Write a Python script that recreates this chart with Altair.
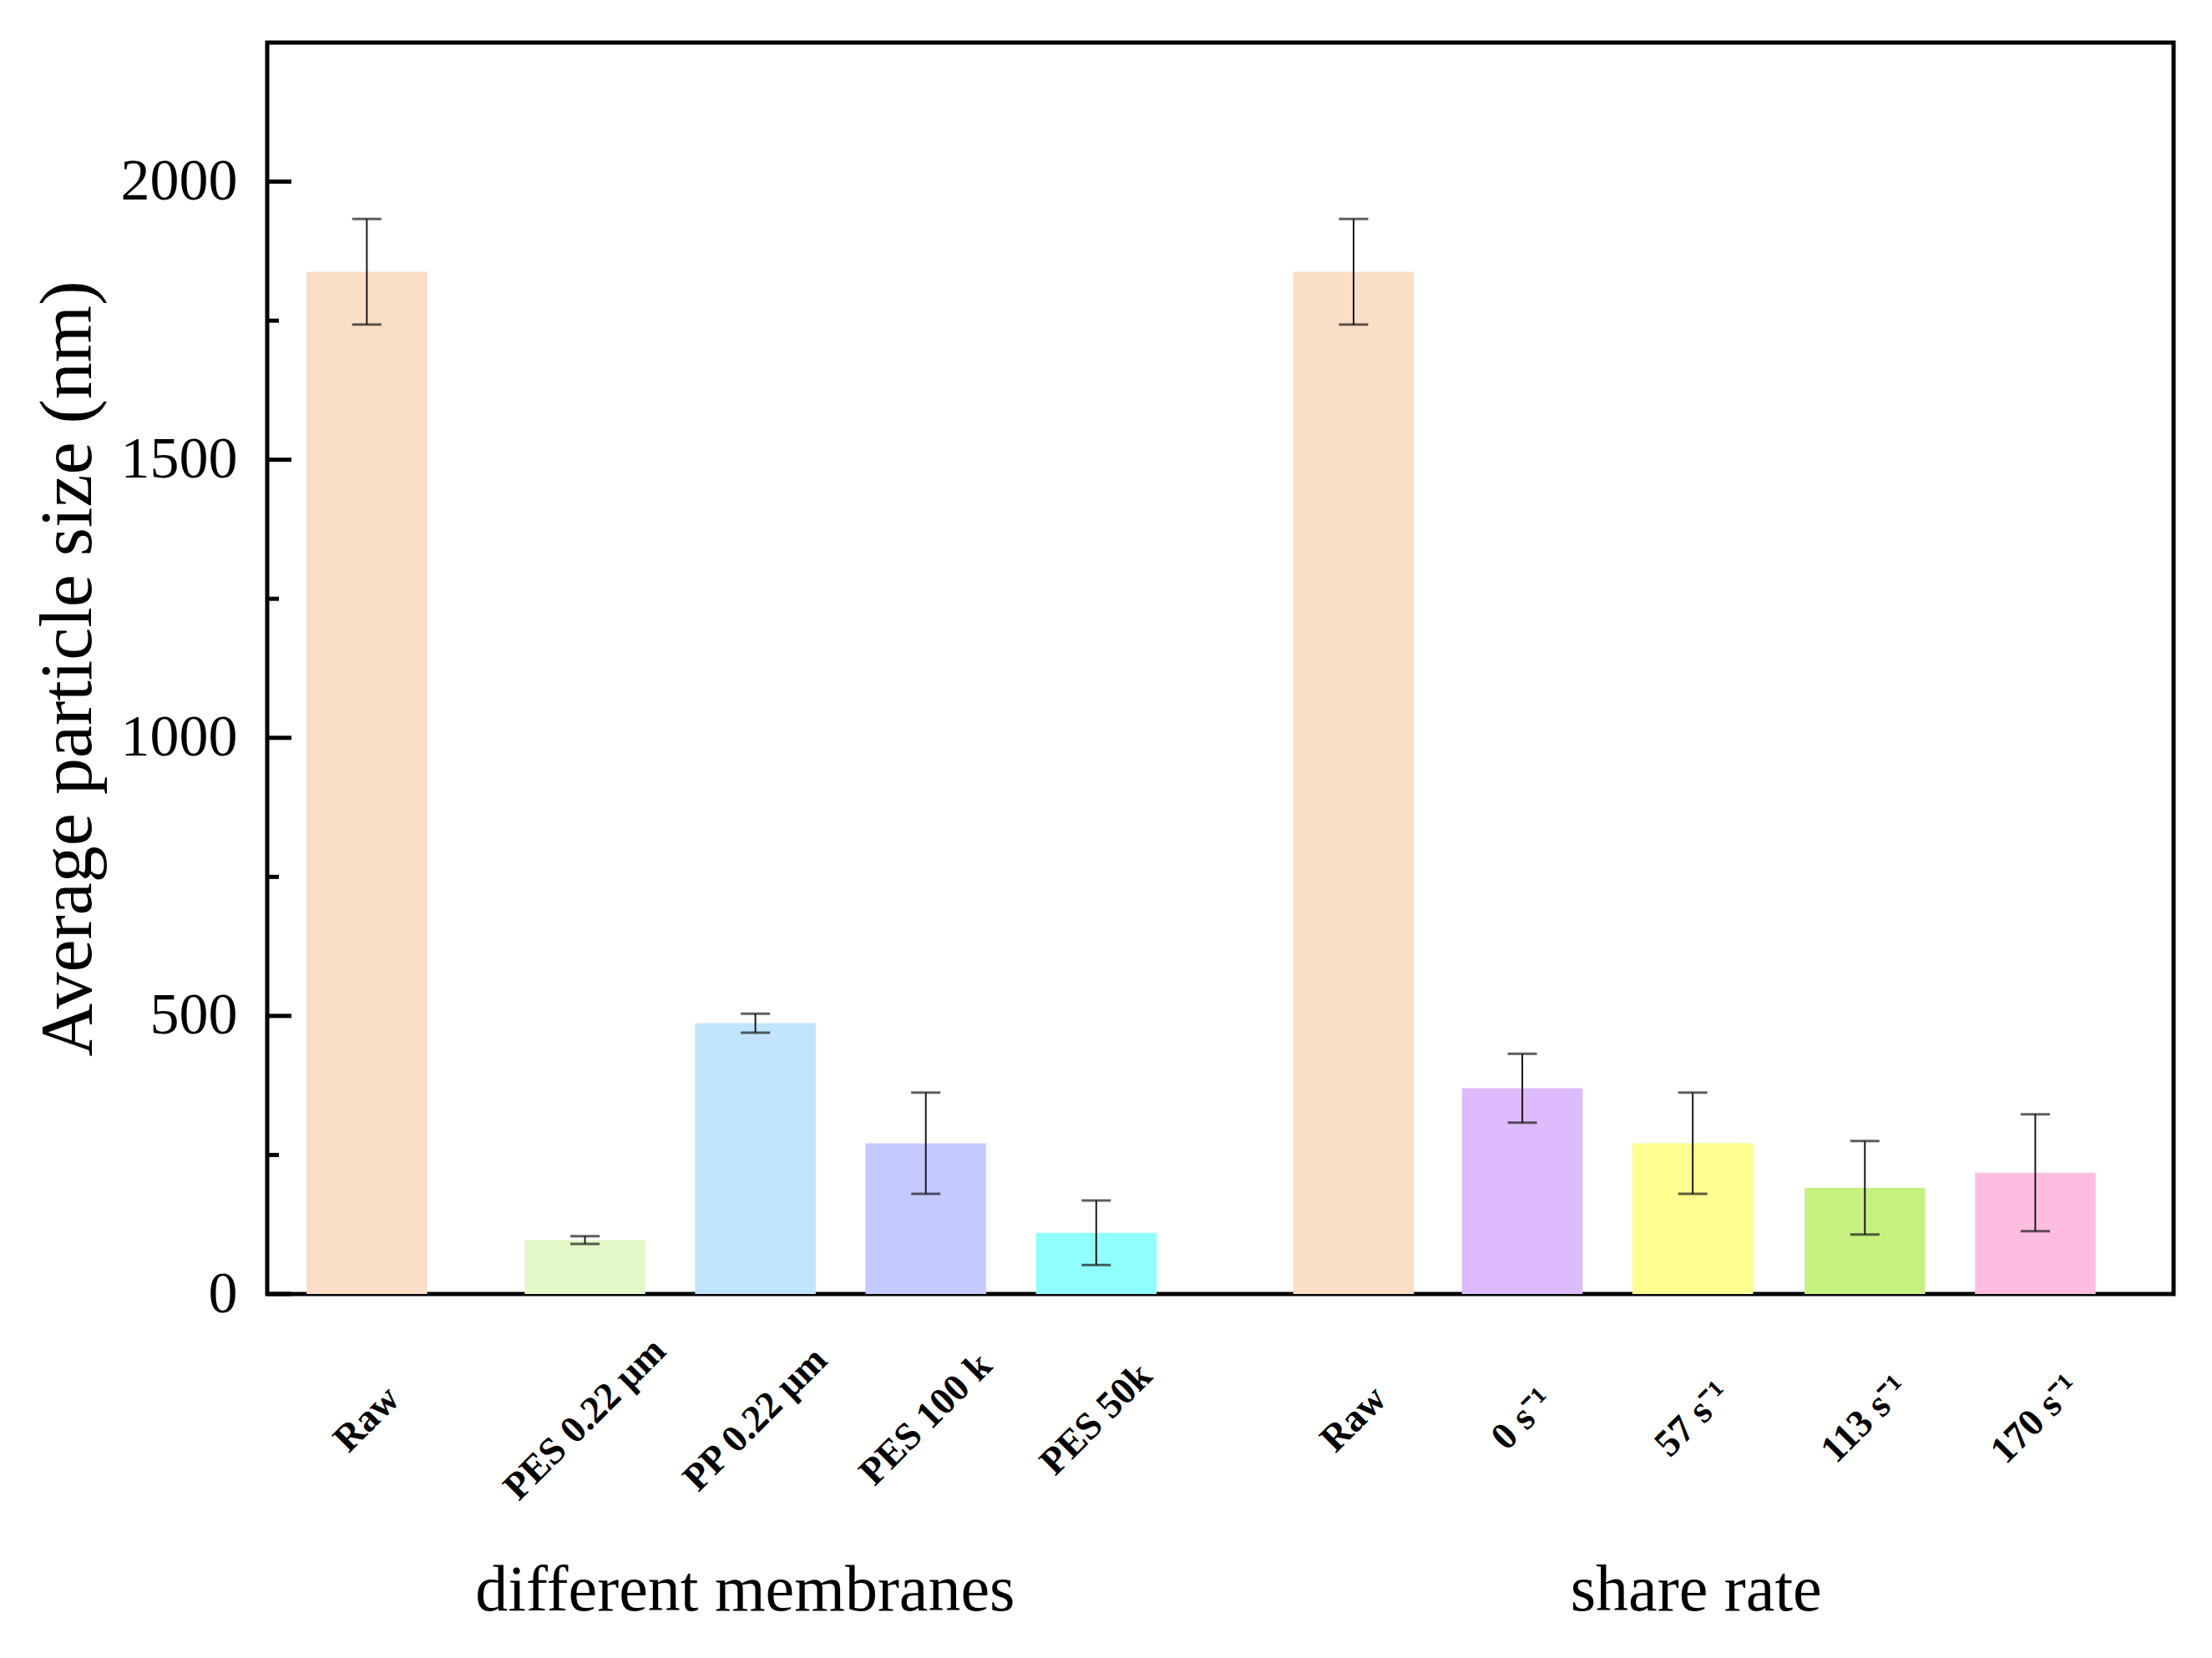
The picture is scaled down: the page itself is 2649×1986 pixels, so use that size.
import altair as alt
import pandas as pd

# ---- data ----
labels = ["Raw", "PES 0.22 μm", "PP 0.22 μm", "PES 100 k", "PES 50k",
          "Raw", "0 s⁻¹", "57 s⁻¹", "113 s⁻¹", "170 s⁻¹"]
x_pos = [0.56, 1.84, 2.84, 3.84, 4.84, 6.35, 7.34, 8.34, 9.35, 10.35]
values = [1838, 97, 487, 271, 110, 1838, 370, 271, 191, 218]
errors = [95, 7, 17, 91, 58, 95, 62, 91, 84, 105]
colors = ["#FBDEC6", "#E3F8C7", "#C2E5FE", "#C5CAFE", "#90FFFE",
          "#FBDEC6", "#DDBBFE", "#FEFE91", "#C6F181", "#FEBDE0"]
groups = ["different membranes", "share rate"]
group_pos = [2.78, 8.36]
major_ticks = [0, 500, 1000, 1500, 2000]
minor_ticks = [250, 750, 1250, 1750]

# ---- style ----
FONT = "Liberation Serif"
W, H = 2283, 1499
HALF_BAR = 0.354
X_DOMAIN = [0, 11.137]
Y_DOMAIN = [0, 2250]

df = pd.DataFrame({
    "id": list(range(len(labels))),
    "label": labels,
    "pos": x_pos,
    "value": values,
    "err": errors,
    "color": colors,
})
df["x0"] = df["pos"] - HALF_BAR
df["x1"] = df["pos"] + HALF_BAR
df["lo"] = df["value"] - df["err"]
df["hi"] = df["value"] + df["err"]

gdf = pd.DataFrame({"group": groups, "gpos": group_pos})
major_df = pd.DataFrame({"t": major_ticks})
minor_df = pd.DataFrame({"t": minor_ticks})

xs = alt.Scale(domain=X_DOMAIN, nice=False, zero=False)
ys = alt.Scale(domain=Y_DOMAIN, nice=False)

YAX = alt.Axis(
    values=major_ticks, format="d", labelFont=FONT, labelFontSize=70, labelColor="black",
    labelPadding=36, ticks=False, domain=False, grid=False,
    title="Average particle size (nm)", titleFont=FONT, titleFontSize=88,
    titleFontWeight="normal", titleColor="black", titleAngle=270,
    titleAlign="center", titleBaseline="middle", titleX=-238, titleY=H / 2,
)

base = alt.Chart(df)

bars = base.mark_bar(strokeWidth=0, orient="vertical").encode(
    x=alt.X("x0:Q", scale=xs, axis=None),
    x2="x1:Q",
    y=alt.Y("value:Q", scale=ys, axis=YAX),
    y2=alt.datum(0),
    color=alt.Color("color:N", scale=None),
)

err_line = base.mark_rule(color="#1a1a1a", strokeWidth=2).encode(
    x=alt.X("pos:Q", scale=xs, axis=None),
    y=alt.Y("lo:Q", scale=ys, axis=YAX),
    y2="hi:Q",
)
cap_lo = base.mark_tick(color="#1a1a1a", orient="horizontal", size=35, thickness=3).encode(
    x=alt.X("pos:Q", scale=xs, axis=None),
    y=alt.Y("lo:Q", scale=ys, axis=YAX),
)
cap_hi = base.mark_tick(color="#1a1a1a", orient="horizontal", size=35, thickness=3).encode(
    x=alt.X("pos:Q", scale=xs, axis=None),
    y=alt.Y("hi:Q", scale=ys, axis=YAX),
)

xlabels = base.mark_text(font=FONT, fontSize=46, fontWeight="bold", angle=315,
                         align="center", baseline="middle", color="black").encode(
    x=alt.X("pos:Q", scale=xs, axis=None),
    y=alt.value(H + 150),
    text="label:N",
)

glabels = alt.Chart(gdf).mark_text(font=FONT, fontSize=78, align="center",
                                    baseline="alphabetic", color="black").encode(
    x=alt.X("gpos:Q", scale=xs, axis=None),
    y=alt.value(H + 379),
    text="group:N",
)

major = alt.Chart(major_df).mark_rule(color="black", strokeWidth=5).encode(
    y=alt.Y("t:Q", scale=ys, axis=YAX),
    x=alt.value(0), x2=alt.value(29),
)
minor = alt.Chart(minor_df).mark_rule(color="black", strokeWidth=5).encode(
    y=alt.Y("t:Q", scale=ys, axis=YAX),
    x=alt.value(0), x2=alt.value(14),
)

chart = alt.layer(bars, err_line, cap_lo, cap_hi, major, minor, xlabels, glabels).properties(
    width=W, height=H,
    autosize=alt.AutoSizeParams(type="none"),
    padding={"left": 312, "top": 43, "right": 38, "bottom": 428},
    background="white",
).configure_view(stroke="black", strokeWidth=5)

chart.save("out.html", embed_options={"renderer": "svg", "actions": False})
